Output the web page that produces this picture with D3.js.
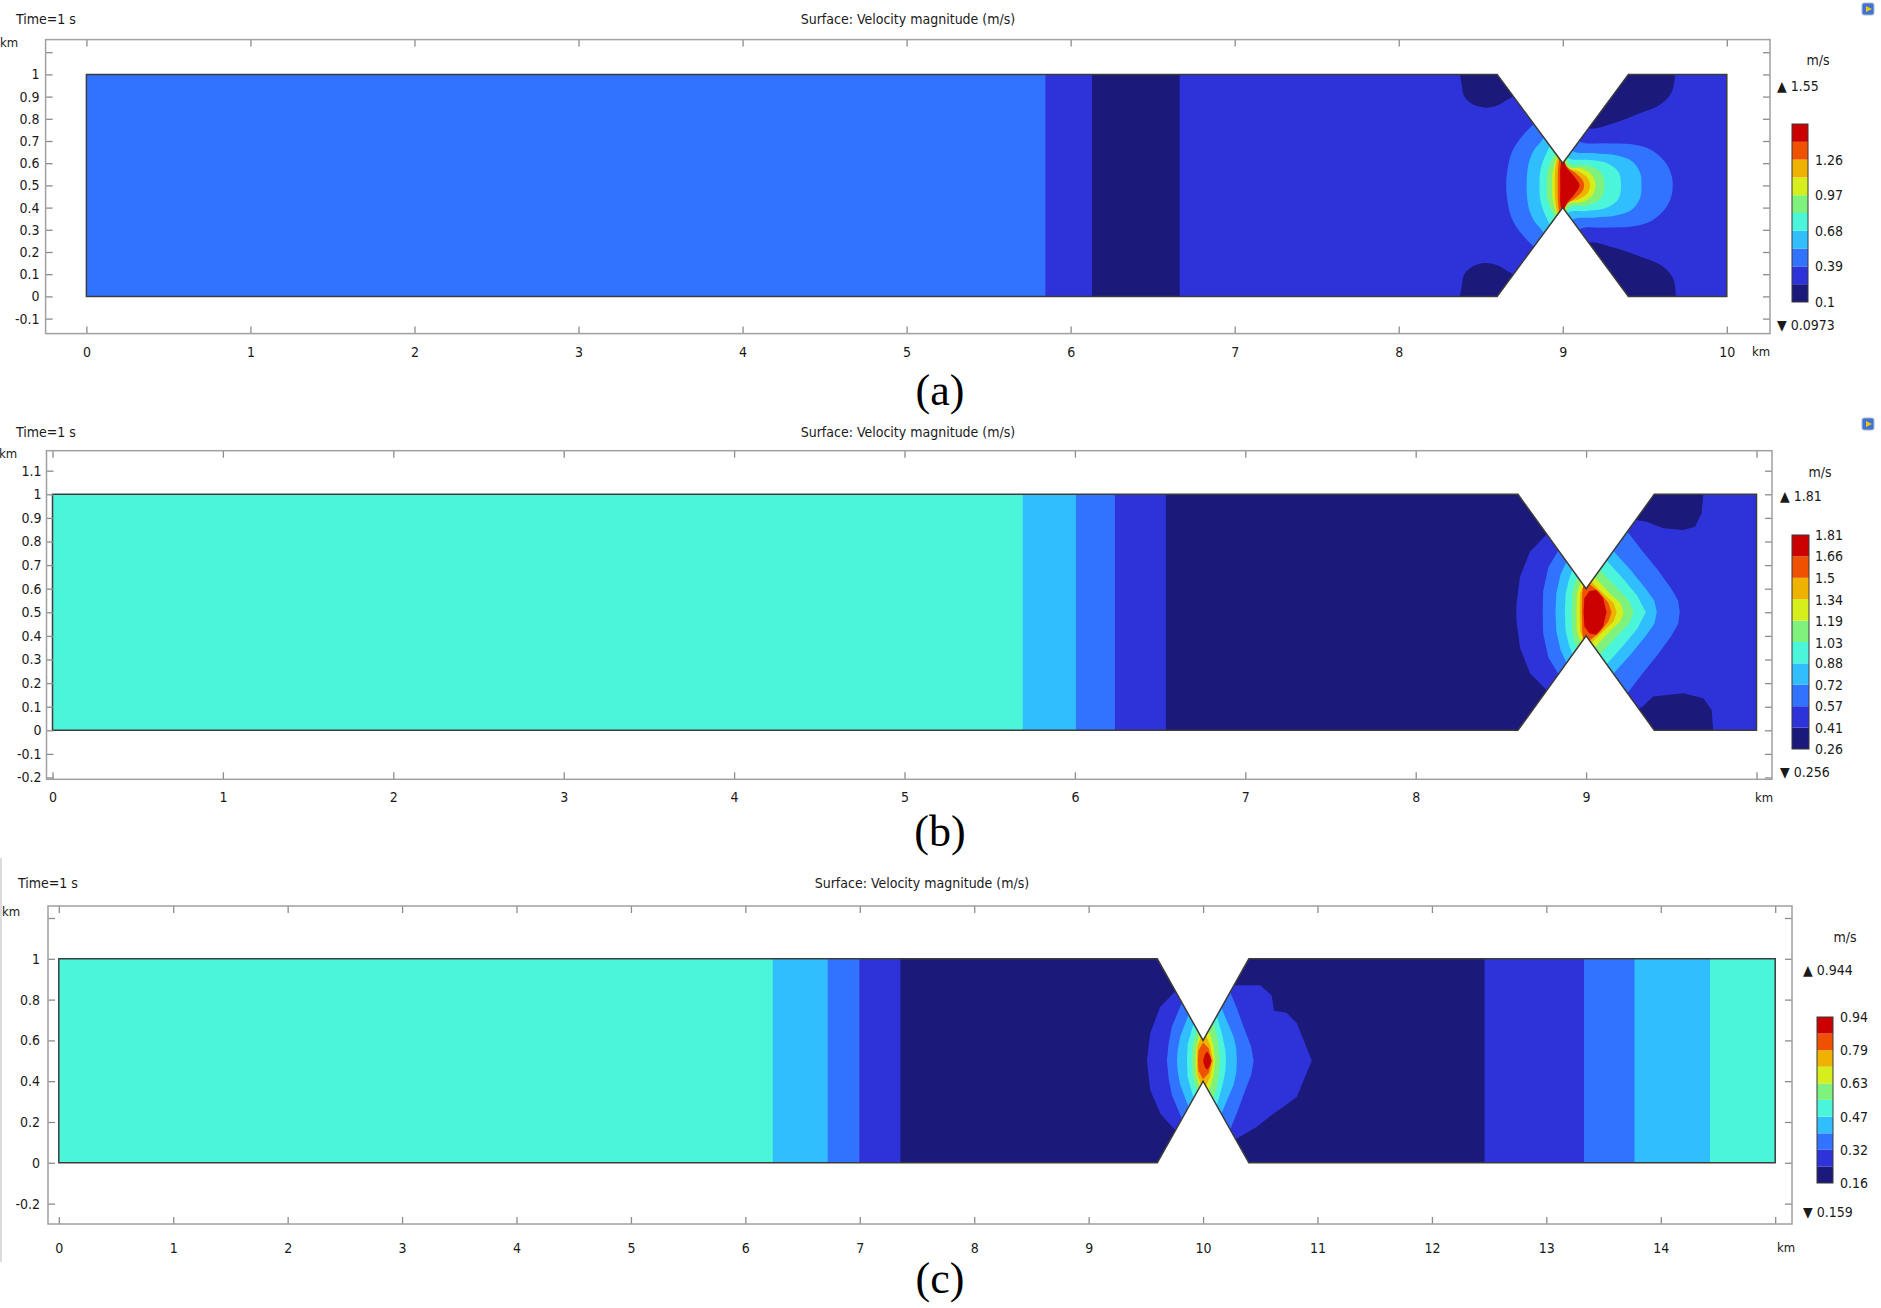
<!DOCTYPE html>
<html>
<head>
<meta charset="utf-8">
<script src="https://cdn.jsdelivr.net/npm/d3@7"></script>
<style>
body { margin: 0; background: #fff; }
svg text { font-family: 'DejaVu Sans Condensed', 'DejaVu Sans', sans-serif; font-stretch: condensed; fill: #1a1a1a; font-size: 14px; }
.tick line { stroke: #8c8c8c; stroke-width: 1.3; }
.tick text { font-size: 14px; }
.frame { fill: none; stroke: #a0a0a0; stroke-width: 1.5; }
.outline { fill: none; stroke: #3c3c3c; stroke-width: 1.5; stroke-linejoin: miter; }
.tag { font-family: 'Liberation Serif', 'Times New Roman', serif; font-stretch: normal; font-size: 44px; fill: #000; }
</style>
</head>
<body>
<svg id="fig" width="1881" height="1308"></svg>
<script>
// ten colour levels, lowest (navy) to highest (red)
const bandColors = ["#1b1a7b", "#2d33d9", "#3172ff", "#30beff", "#4bf5da",
                    "#7ef27c", "#d6ee1c", "#efb200", "#ee5200", "#cb0000"];

// ---------- (a) ----------
const outlineA = [[0,0],[8.6,0],[9,0.4],[9.4,0],[10,0],[10,1],[9.4,1],[9,0.6],[8.6,1],[0,1]];
const stripesA = [[0,5.845,2],[5.845,6.13,1],[6.13,6.665,0],[6.665,10,1]];
const blobsA = [
  {band:0, pts:[[8.384,1.05],[8.385,0.95],[8.4,0.9],[8.45,0.865],[8.53,0.85],[8.6,0.86],[8.66,0.885],[8.72,0.92],[8.7,1.05]]},
  {band:0, pts:[[8.384,-0.05],[8.385,0.05],[8.4,0.1],[8.45,0.135],[8.53,0.15],[8.6,0.14],[8.66,0.115],[8.72,0.08],[8.7,-0.05]]},
  {band:0, pts:[[9.1,0.85],[9.15,0.76],[9.31,0.78],[9.47,0.825],[9.59,0.862],[9.66,0.915],[9.685,1.0],[9.685,1.05],[9.2,1.05]]},
  {band:0, pts:[[9.1,0.15],[9.15,0.24],[9.31,0.22],[9.47,0.18],[9.6,0.14],[9.67,0.085],[9.69,0.0],[9.69,-0.05],[9.2,-0.05]]}
];
const throatA = [
  {band:2, half:[[8.655,0.5],[8.665,0.58],[8.69,0.65],[8.74,0.71],[8.8,0.76],[8.86,0.8],[8.95,0.85],[9.06,0.8],[9.1,0.7],[9.25,0.69],[9.42,0.685],[9.54,0.66],[9.63,0.6],[9.665,0.54],[9.67,0.5]]},
  {band:3, half:[[8.78,0.5],[8.785,0.57],[8.8,0.62],[8.83,0.665],[8.87,0.7],[8.92,0.76],[9.0,0.8],[9.04,0.7],[9.06,0.655],[9.2,0.645],[9.33,0.635],[9.42,0.61],[9.47,0.56],[9.48,0.5]]},
  {band:4, half:[[8.858,0.5],[8.862,0.56],[8.88,0.61],[8.91,0.66],[8.96,0.72],[9.0,0.72],[9.02,0.64],[9.04,0.62],[9.15,0.615],[9.27,0.6],[9.34,0.56],[9.355,0.5]]},
  {band:5, half:[[8.902,0.5],[8.906,0.56],[8.93,0.61],[8.96,0.66],[9.0,0.7],[9.04,0.6],[9.15,0.59],[9.23,0.56],[9.255,0.5]]},
  {band:6, half:[[8.935,0.5],[8.938,0.56],[8.955,0.61],[8.975,0.65],[9.0,0.68],[9.03,0.585],[9.12,0.575],[9.18,0.545],[9.2,0.5]]},
  {band:7, half:[[8.952,0.5],[8.955,0.57],[8.975,0.64],[9.0,0.66],[9.02,0.58],[9.09,0.565],[9.15,0.535],[9.166,0.5]]},
  {band:8, half:[[8.97,0.5],[8.972,0.58],[8.988,0.64],[9.0,0.64],[9.02,0.59],[9.08,0.555],[9.12,0.525],[9.13,0.5]]},
  {band:9, half:[[8.985,0.5],[8.987,0.59],[9.0,0.62],[9.025,0.58],[9.065,0.545],[9.095,0.515],[9.102,0.5]]}
];
const xTicksA = [0,1,2,3,4,5,6,7,8,9,10];
const xLabelsA = [0,1,2,3,4,5,6,7,8,9,10];
const yTicksA = [-0.1,0,0.1,0.2,0.3,0.4,0.5,0.6,0.7,0.8,0.9,1,1.1];
const yLabelsA = [-0.1,0,0.1,0.2,0.3,0.4,0.5,0.6,0.7,0.8,0.9,1];
const levelsA = [0.1,0.245,0.39,0.535,0.68,0.825,0.97,1.115,1.26,1.405,1.55];
const cbTicksA = [0.1,0.39,0.68,0.97,1.26];
const rangeA = ["0.0973","1.55"];

// ---------- (b) ----------
const outlineB = outlineA;
const stripesB = [[0,5.694,4],[5.694,6.006,3],[6.006,6.235,2],[6.235,6.534,1],[6.534,9.0,0],[9.0,10,1]];
const blobsB = [
  {band:0, pts:[[9.2,0.95],[9.296,0.891],[9.355,0.884],[9.453,0.856],[9.57,0.849],[9.639,0.863],[9.678,0.92],[9.688,1.0],[9.69,1.05],[9.3,1.05]]},
  {band:0, pts:[[9.2,0.05],[9.33,0.1],[9.394,0.143],[9.57,0.157],[9.688,0.136],[9.737,0.086],[9.746,0.0],[9.75,-0.05],[9.3,-0.05]]}
];
const throatB = [
  {band:1, half:[[8.59,0.5],[8.592,0.54],[8.612,0.65],[8.67,0.757],[8.768,0.83],[8.85,0.95],[9.0,0.8],[9.1,0.6],[9.1,0.5]]},
  {band:2, half:[[8.745,0.5],[8.748,0.59],[8.778,0.69],[8.84,0.765],[8.95,0.9],[9.12,0.92],[9.24,0.845],[9.33,0.76],[9.42,0.68],[9.5,0.6],[9.54,0.55],[9.55,0.5]]},
  {band:3, half:[[8.82,0.5],[8.825,0.58],[8.85,0.66],[8.885,0.715],[8.95,0.85],[9.08,0.85],[9.16,0.76],[9.26,0.68],[9.35,0.6],[9.4,0.55],[9.415,0.5]]},
  {band:4, half:[[8.875,0.5],[8.88,0.58],[8.9,0.64],[8.92,0.68],[8.97,0.8],[9.06,0.8],[9.12,0.72],[9.22,0.64],[9.3,0.57],[9.35,0.5]]},
  {band:5, half:[[8.915,0.5],[8.918,0.58],[8.935,0.63],[8.95,0.65],[8.99,0.75],[9.04,0.75],[9.08,0.68],[9.17,0.61],[9.25,0.55],[9.28,0.5]]},
  {band:6, half:[[8.944,0.5],[8.946,0.58],[8.97,0.63],[9.0,0.72],[9.03,0.72],[9.05,0.65],[9.14,0.58],[9.2,0.54],[9.22,0.5]]},
  {band:7, half:[[8.963,0.5],[8.965,0.58],[8.985,0.615],[9.0,0.7],[9.02,0.7],[9.03,0.63],[9.1,0.58],[9.16,0.54],[9.18,0.5]]},
  {band:8, half:[[8.975,0.5],[8.977,0.58],[8.99,0.65],[9.02,0.62],[9.08,0.585],[9.13,0.54],[9.15,0.5]]},
  {band:9, half:[[8.985,0.5],[8.99,0.56],[9.02,0.59],[9.06,0.595],[9.1,0.56],[9.12,0.5]]}
];
const xTicksB = [0,1,2,3,4,5,6,7,8,9,10];
const xLabelsB = [0,1,2,3,4,5,6,7,8,9];
const yTicksB = [-0.2,-0.1,0,0.1,0.2,0.3,0.4,0.5,0.6,0.7,0.8,0.9,1,1.1];
const yLabelsB = [-0.2,-0.1,0,0.1,0.2,0.3,0.4,0.5,0.6,0.7,0.8,0.9,1,1.1];
const levelsB = [0.26,0.415,0.57,0.725,0.88,1.035,1.19,1.345,1.5,1.655,1.81];
const cbTicksB = [0.26,0.41,0.57,0.72,0.88,1.03,1.19,1.34,1.5,1.66,1.81];
const rangeB = ["0.256","1.81"];

// ---------- (c) ----------
const outlineC = [[0,0],[9.6,0],[10,0.4],[10.4,0],[15,0],[15,1],[10.4,1],[10,0.6],[9.6,1],[0,1]];
const stripesC = [[0,6.24,4],[6.24,6.72,3],[6.72,6.995,2],[6.995,7.355,1],[7.355,12.46,0],
                  [12.46,13.33,1],[13.33,13.77,2],[13.77,14.43,3],[14.43,15,4]];
const blobsC = [
  {band:1, pts:[[9.757,0.84],[9.626,0.765],[9.538,0.635],[9.509,0.5],[9.538,0.357],[9.626,0.242],[9.757,0.16],
                [9.85,0.05],[10.0,0.1],[10.2,0.1],[10.3,0.12],[10.47,0.177],[10.616,0.242],[10.704,0.275],[10.82,0.324],
                [10.95,0.5],[10.82,0.684],[10.73,0.735],[10.62,0.745],[10.6,0.82],[10.5,0.87],[10.267,0.87],
                [10.15,0.92],[10.0,0.9],[9.85,0.95]]}
];
const throatC = [
  {band:2, half:[[9.684,0.5],[9.7,0.59],[9.727,0.667],[9.815,0.785],[9.9,0.9],[10.1,0.9],[10.237,0.837],[10.3,0.75],[10.354,0.667],[10.42,0.57],[10.442,0.5]]},
  {band:3, half:[[9.771,0.5],[9.78,0.56],[9.8,0.618],[9.873,0.727],[9.95,0.85],[10.08,0.85],[10.16,0.76],[10.22,0.68],[10.267,0.618],[10.29,0.56],[10.296,0.5]]},
  {band:4, half:[[9.859,0.5],[9.865,0.58],[9.917,0.683],[9.97,0.8],[10.05,0.8],[10.12,0.72],[10.17,0.62],[10.195,0.55],[10.2,0.5]]},
  {band:5, half:[[9.902,0.5],[9.91,0.58],[9.946,0.654],[9.98,0.75],[10.04,0.75],[10.09,0.69],[10.13,0.6],[10.15,0.5]]},
  {band:6, half:[[9.932,0.5],[9.94,0.57],[9.97,0.63],[9.99,0.7],[10.02,0.7],[10.05,0.65],[10.09,0.58],[10.106,0.5]]},
  {band:7, half:[[9.945,0.5],[9.95,0.57],[9.985,0.62],[10.0,0.66],[10.02,0.63],[10.06,0.58],[10.09,0.5]]},
  {band:8, half:[[9.955,0.5],[9.96,0.55],[10.0,0.59],[10.05,0.56],[10.075,0.5]]},
  {band:9, half:[[10.0,0.5],[10.015,0.53],[10.035,0.545],[10.06,0.525],[10.075,0.5]]}
];
const xTicksC = [0,1,2,3,4,5,6,7,8,9,10,11,12,13,14,15];
const xLabelsC = [0,1,2,3,4,5,6,7,8,9,10,11,12,13,14];
const yTicksC = [-0.2,0,0.2,0.4,0.6,0.8,1,1.2];
const yLabelsC = [-0.2,0,0.2,0.4,0.6,0.8,1];
const levelsC = [0.159,0.2375,0.316,0.394,0.473,0.552,0.63,0.709,0.787,0.866,0.944];
const cbTicksC = [0.159,0.316,0.473,0.63,0.787,0.944];
const cbTextC = ["0.16","0.32","0.47","0.63","0.79","0.94"];
const rangeC = ["0.159","0.944"];

const titleText = "Surface: Velocity magnitude (m/s)";
const timeText = "Time=1 s";

// ---------- layout (pixels) ----------
const layoutA = {frame:[45.6,39.6,1770,333.6], xs:[0,10,86.4,1726.8], ys:[296.4,74.4], xPad:13, yPad:6,
  title:[908,24], time:[16,24], kmTop:[9,47], kmX:1761,
  cb:{x:1792,w:16,top:124,bot:302,lx:1815,unit:[1818,65],max:[1777,91],min:[1777,330]}, tag:[940,405]};
const layoutB = {frame:[46.5,450.7,1772,779.3], xs:[0,10,52.5,1756.5], ys:[730.3,494.3], xPad:13, yPad:5,
  title:[908,437], time:[16,437], kmTop:[8,458], kmX:1764,
  cb:{x:1792,w:17,top:535,bot:749,lx:1815,unit:[1820,477],max:[1780,501],min:[1780,777]}, tag:[940,846]};
const layoutC = {frame:[48,906,1792,1224], xs:[0,15,58.8,1775.2], ys:[1162.8,958.8], xPad:19, yPad:8,
  title:[922,888], time:[18,888], kmTop:[11,916], kmX:1786,
  cb:{x:1817,w:16,top:1017,bot:1183,lx:1840,unit:[1845,942],max:[1803,975],min:[1803,1217]}, tag:[940,1293]};

const svg = d3.select("#fig");
const mirror = half => half.concat(half.slice(1, -1).reverse().map(([a, b]) => [a, 1 - b]));

function drawPanel(id, L, d) {
  const [fl, ft, fr, fb] = L.frame;
  const x = d3.scaleLinear().domain([L.xs[0], L.xs[1]]).range([L.xs[2], L.xs[3]]);
  const y = d3.scaleLinear().domain([0, 1]).range(L.ys);
  const poly = d3.line().x(p => x(p[0])).y(p => y(p[1])).curve(d3.curveLinearClosed);
  const shape = d3.line().x(p => x(p[0])).y(p => y(p[1])).curve(d.curve);

  svg.append("clipPath").attr("id", "clip" + id).append("path").attr("d", poly(d.outline));
  const field = svg.append("g").attr("clip-path", `url(#clip${id})`);

  field.selectAll("rect").data(d.stripes).join("rect")
    .attr("x", s => x(s[0])).attr("width", s => x(s[1]) - x(s[0]) + 0.6)
    .attr("y", y(1) - 3).attr("height", y(0) - y(1) + 6)
    .attr("fill", s => bandColors[s[2]]);

  field.selectAll("path.blob").data(d.blobs).join("path").attr("class", "blob")
    .attr("d", b => shape(b.pts)).attr("fill", b => bandColors[b.band]);

  field.selectAll("path.band").data(d.throat).join("path").attr("class", "band")
    .attr("d", b => shape(mirror(b.half))).attr("fill", b => bandColors[b.band]);

  svg.append("path").attr("class", "outline").attr("d", poly(d.outline));

  // axes, ticks pointing inward like the original
  const fmt = labels => v => labels.includes(v) ? String(v) : "";
  const bottom = svg.append("g").attr("transform", `translate(0,${fb})`)
    .call(d3.axisBottom(x).tickValues(d.xTicks).tickSizeInner(-7).tickSizeOuter(0).tickPadding(L.xPad).tickFormat(fmt(d.xLabels)));
  const top = svg.append("g").attr("transform", `translate(0,${ft})`)
    .call(d3.axisTop(x).tickValues(d.xTicks).tickSizeInner(-7).tickSizeOuter(0).tickFormat(""));
  const left = svg.append("g").attr("transform", `translate(${fl},0)`)
    .call(d3.axisLeft(y).tickValues(d.yTicks).tickSizeInner(-7).tickSizeOuter(0).tickPadding(L.yPad).tickFormat(fmt(d.yLabels)));
  const right = svg.append("g").attr("transform", `translate(${fr},0)`)
    .call(d3.axisRight(y).tickValues(d.yTicks).tickSizeInner(-7).tickSizeOuter(0).tickFormat(""));
  [bottom, top, left, right].forEach(a => { a.select(".domain").remove(); a.attr("font-family", null).attr("font-size", null); });

  svg.append("rect").attr("class", "frame")
    .attr("x", fl).attr("y", ft).attr("width", fr - fl).attr("height", fb - ft);

  svg.append("text").attr("x", L.kmX).attr("y", fb + L.xPad).attr("dy", "0.71em")
    .attr("text-anchor", "middle").style("font-size", "13px").text("km");
  svg.append("text").attr("x", L.kmTop[0]).attr("y", L.kmTop[1])
    .attr("text-anchor", "middle").style("font-size", "13px").text("km");
  svg.append("text").attr("x", L.title[0]).attr("y", L.title[1]).attr("text-anchor", "middle").text(titleText);
  svg.append("text").attr("x", L.time[0]).attr("y", L.time[1]).text(timeText);
  svg.append("text").attr("class", "tag").attr("x", L.tag[0]).attr("y", L.tag[1])
    .attr("text-anchor", "middle").text(`(${id})`);

  drawColorbar(L.cb, d);
}

function drawColorbar(c, d) {
  const lv = d.levels;
  const s = d3.scaleLinear().domain([lv[0], lv[lv.length - 1]]).range([c.bot, c.top]);
  const g = svg.append("g");
  g.selectAll("rect").data(d3.pairs(lv)).join("rect")
    .attr("x", c.x).attr("width", c.w)
    .attr("y", p => s(p[1])).attr("height", p => s(p[0]) - s(p[1]))
    .attr("fill", (p, i) => bandColors[i]);
  g.append("rect").attr("x", c.x).attr("y", c.top).attr("width", c.w).attr("height", c.bot - c.top)
    .attr("fill", "none").attr("stroke", "#3a3a3a").attr("stroke-width", 1);
  g.selectAll("text.cbl").data(d.cbTicks).join("text").attr("class", "cbl")
    .attr("x", c.lx).attr("y", v => s(v)).attr("dy", "0.35em")
    .text((v, i) => d.cbText ? d.cbText[i] : String(v));
  svg.append("text").attr("x", c.unit[0]).attr("y", c.unit[1]).attr("text-anchor", "middle").text("m/s");
  svg.append("text").attr("x", c.max[0]).attr("y", c.max[1]).text("\u25B2 " + d.range[1]);
  svg.append("text").attr("x", c.min[0]).attr("y", c.min[1]).text("\u25BC " + d.range[0]);
}

// (a) has smooth contours, (b) and (c) show the faceted mesh look
const smoothCurve = d3.curveCatmullRomClosed.alpha(0.5);
const meshCurve = d3.curveLinearClosed;

drawPanel("a", layoutA, {outline: outlineA, stripes: stripesA, blobs: blobsA, throat: throatA,
  xTicks: xTicksA, xLabels: xLabelsA, yTicks: yTicksA, yLabels: yLabelsA,
  levels: levelsA, cbTicks: cbTicksA, range: rangeA, curve: smoothCurve});
drawPanel("b", layoutB, {outline: outlineB, stripes: stripesB, blobs: blobsB, throat: throatB,
  xTicks: xTicksB, xLabels: xLabelsB, yTicks: yTicksB, yLabels: yLabelsB,
  levels: levelsB, cbTicks: cbTicksB, range: rangeB, curve: meshCurve});
drawPanel("c", layoutC, {outline: outlineC, stripes: stripesC, blobs: blobsC, throat: throatC,
  xTicks: xTicksC, xLabels: xLabelsC, yTicks: yTicksC, yLabels: yLabelsC,
  levels: levelsC, cbTicks: cbTicksC, cbText: cbTextC, range: rangeC, curve: meshCurve});

// small viewer icons in the upper right corner and the page edge line next to (c)
[[1862, 3], [1862, 418]].forEach(([ix, iy]) => {
  svg.append("rect").attr("x", ix).attr("y", iy).attr("width", 12).attr("height", 12).attr("rx", 2)
    .attr("fill", "#3f73cf").attr("stroke", "#a9b9d6");
  svg.append("path").attr("d", `M${ix + 4},${iy + 3}L${ix + 10},${iy + 6}L${ix + 4},${iy + 9}Z`).attr("fill", "#f3c21b");
});
svg.append("line").attr("x1", 1).attr("x2", 1).attr("y1", 858).attr("y2", 1262)
  .attr("stroke", "#d0d0d0").attr("stroke-width", 1.5);
</script>
</body>
</html>
